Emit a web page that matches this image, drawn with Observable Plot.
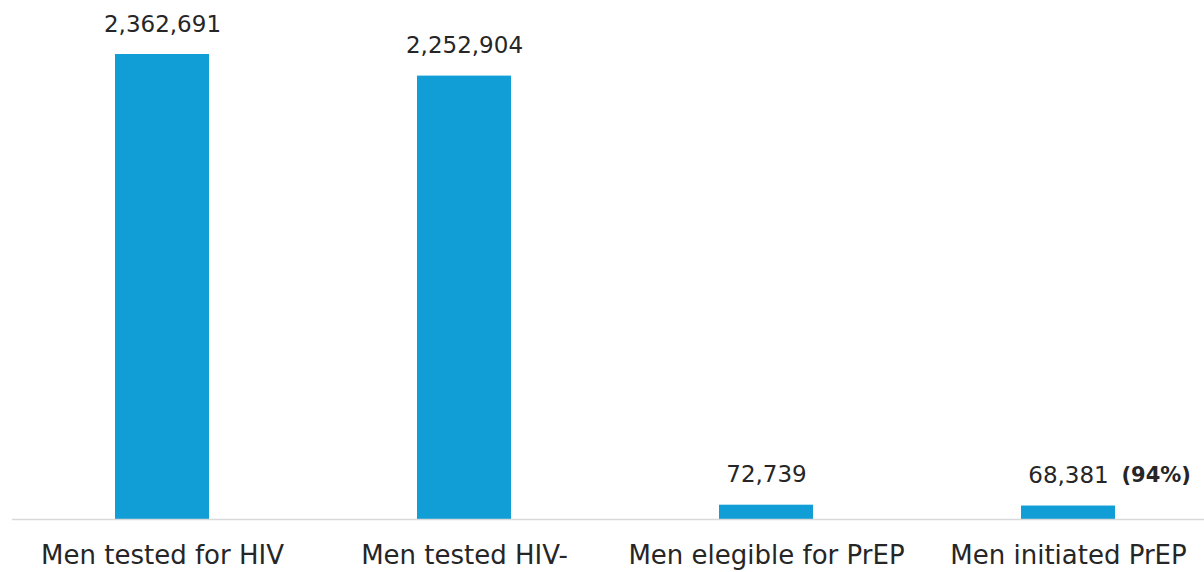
<!DOCTYPE html>
<html>
<head>
<meta charset="utf-8">
<script src="https://cdn.jsdelivr.net/npm/d3@7"></script>
<script src="https://cdn.jsdelivr.net/npm/@observablehq/plot@0.6"></script>
<style>
  html, body { margin: 0; padding: 0; background: #fff; }
  #chart svg { display: block; }
</style>
</head>
<body>
<div id="chart"></div>
<script>
const categories = ["Men tested for HIV", "Men tested HIV-", "Men elegible for PrEP", "Men initiated PrEP"];
const values = [2362691, 2252904, 72739, 68381];
const valueLabels = ["2,362,691", "2,252,904", "72,739", "68,381"];
const extraLabels = ["", "", "", "(94%)"];

const data = categories.map((c, i) => ({category: c, value: values[i], label: valueLabels[i], extra: extraLabels[i]}));

const font = "'DejaVu Sans', sans-serif";

const chart = Plot.plot({
  width: 1204,
  height: 572,
  marginLeft: 12,
  marginRight: 0,
  marginTop: 0,
  marginBottom: 53,
  style: {fontFamily: font, color: "#262626", background: "#fff"},
  x: {domain: categories, range: [11, 1219], paddingInner: 0.689, paddingOuter: 0.3445, label: null},
  y: {domain: [0, 2362691], range: [519, 54], axis: null},
  marks: [
    Plot.barY(data, {x: "category", y: "value", fill: "#119ed6"}),
    Plot.ruleY([0], {stroke: "#d9d9d9", strokeWidth: 1.5}),
    Plot.text(data, {x: "category", y: "value", text: "label", lineAnchor: "bottom", dy: -23, fontSize: 23, fill: "#262626"}),
    Plot.text(data.filter(d => d.extra), {x: "category", y: "value", text: "extra", lineAnchor: "bottom", textAnchor: "start", dx: 53, dy: -24, fontSize: 21, fontWeight: "bold", fill: "#262626"}),
    Plot.axisX({tickSize: 0, tickPadding: 26, fontSize: 26, label: null, fill: "#262626"})
  ]
});
document.getElementById("chart").appendChild(chart);
</script>
</body>
</html>
